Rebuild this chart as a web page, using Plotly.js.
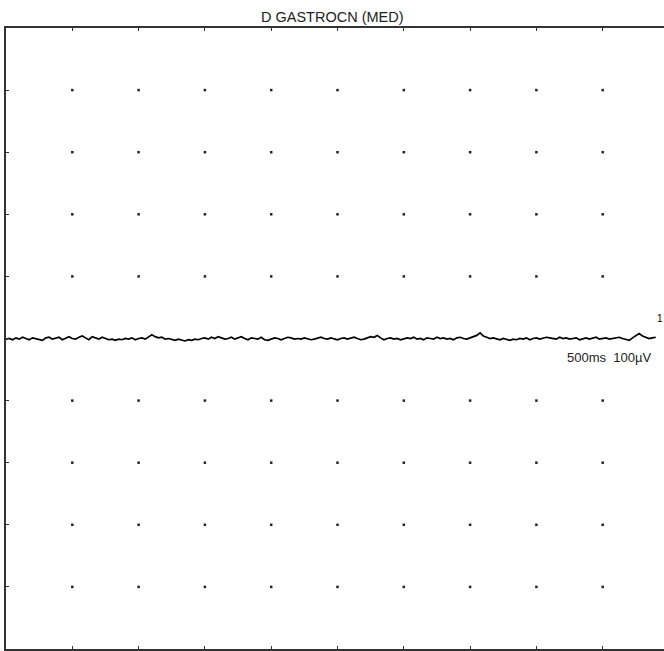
<!DOCTYPE html>
<html>
<head>
<meta charset="utf-8">
<script src="https://cdn.plot.ly/plotly-3.0.1.min.js"></script>
<style>
html,body{margin:0;padding:0;overflow:hidden;background:#fff;}
#wrap{width:664px;height:651px;overflow:hidden;position:relative;}
#chart{width:670px;height:651px;}
</style>
</head>
<body>
<div id="wrap"><div id="chart"></div></div>
<script>
// Trace title and scale label
const chartTitle = "D GASTROCN (MED)";
const scaleLabel = "500ms&nbsp;&nbsp;100µV";
const traceLabel = "1";

// Time axis (ms) - 500 ms per division, 10 divisions
const xTicks = [0, 500, 1000, 1500, 2000, 2500, 3000, 3500, 4000, 4500, 5000];
// Amplitude axis (µV) - 100 µV per division
const yTicks = [-500, -400, -300, -200, -100, 0, 100, 200, 300, 400, 500];
// Grid dot rows (all interior rows except the trace row)
const dotRows = [-400, -300, -200, -100, 100, 200, 300, 400];
const dotCols = [500, 1000, 1500, 2000, 2500, 3000, 3500, 4000, 4500];

// Sample interval 25 ms
const sampleMs = 25;
// EMG signal values (µV)
const signal = [
 -1, 0, -2, 1, -1, 2, 0, -2, 1, 0, -1, -3, 1, 2, -1, 0, 2, -2, 1, 3,
 0, -1, 2, 4, 1, -2, 3, 1, -1, 2, 0, -2, -1, -3, -1, -2, 0, -1, 1, -2,
 0, 1, -1, 2, 6, 3, 1, 2, -1, 0, -2, -3, -1, -2, -4, -2, -3, -1, -2, 0,
 1, -1, 2, 0, 3, 1, -1, 0, 2, -1, 1, 3, 0, -2, 1, 0, -1, 2, -2, -3,
 -1, 1, 0, -2, 0, 2, 1, -1, 0, -1, 1, 0, -2, -1, 1, 2, 0, -1, 1, 0,
 -2, 0, 1, -1, 0, 2, 0, -2, -1, 1, 3, 2, 5, 1, -2, 0, 1, -1, 0, -2,
 -1, 1, 0, 2, -1, 0, -2, 1, 0, -1, 2, 0, 1, -1, 0, -2, 1, 2, 0, -1,
 1, 3, 5, 9, 4, 2, 0, 1, -1, -2, 0, -1, -3, -1, -2, 0, -1, 1, -2, 0,
 1, -1, 0, 2, 1, 0, -1, 2, 0, 1, -1, 0, 1, -2, 0, 1, -1, 0, 2, -1,
 0, 1, -1, 0, 1, 2, 0, -2, -3, 1, 5, 8, 4, 2, 0, 1, 2
];
const signalTime = signal.map((_, i) => i * sampleMs);

const dotX = [], dotY = [];
dotCols.forEach(x => dotRows.forEach(y => { dotX.push(x); dotY.push(y); }));

const traces = [
  {
    x: dotX, y: dotY, type: 'scatter', mode: 'markers',
    marker: {symbol: 'square', size: 2.5, color: '#222'},
    hoverinfo: 'skip', showlegend: false
  },
  {
    x: signalTime, y: signal, type: 'scatter', mode: 'lines',
    line: {color: '#000', width: 1.7},
    hoverinfo: 'skip', showlegend: false
  }
];

const axisCommon = {
  showgrid: false, zeroline: false, showticklabels: false,
  showline: true, mirror: 'ticks', linecolor: '#333', linewidth: 2,
  ticks: 'inside', ticklen: 3, tickwidth: 1, tickcolor: '#333',
  tickmode: 'array', fixedrange: true
};

const layout = {
  width: 670, height: 651,
  margin: {l: 6, r: 1, t: 28, b: 2, pad: 0},
  paper_bgcolor: '#fff', plot_bgcolor: '#fff',
  xaxis: Object.assign({}, axisCommon, {range: [xTicks[0], xTicks[xTicks.length-1]], tickvals: xTicks}),
  yaxis: Object.assign({}, axisCommon, {range: [yTicks[0], yTicks[yTicks.length-1]], tickvals: yTicks}),
  annotations: [
    {text: chartTitle, xref: 'paper', yref: 'paper', x: 0.493, y: 1, yanchor: 'bottom', yshift: 1,
     showarrow: false, font: {family: 'Liberation Sans, Arial, sans-serif', size: 14.5, color: '#222'}},
    {text: scaleLabel, xref: 'x', yref: 'y', x: 4550, y: -30, xanchor: 'center', yanchor: 'middle',
     showarrow: false, font: {family: 'Liberation Sans, Arial, sans-serif', size: 13, color: '#222'}},
    {text: traceLabel, xref: 'x', yref: 'y', x: 4895, y: 32, xanchor: 'left', yanchor: 'middle',
     showarrow: false, font: {family: 'Liberation Sans, Arial, sans-serif', size: 10, color: '#000'}}
  ]
};

Plotly.newPlot('chart', traces, layout, {staticPlot: true, displayModeBar: false});
</script>
</body>
</html>
